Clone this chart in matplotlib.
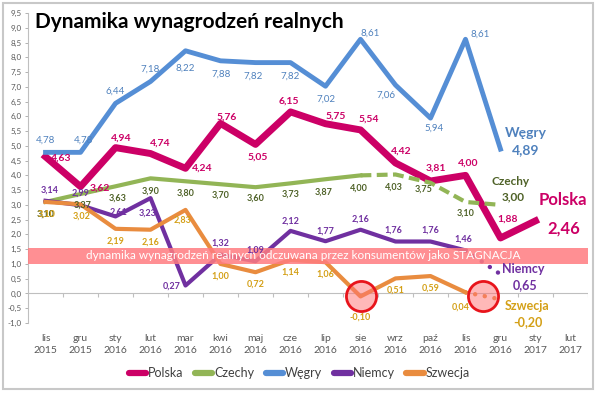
import numpy as np
import matplotlib
matplotlib.use("Agg")
from matplotlib import pyplot as plt
from matplotlib.patches import Rectangle

plt.rcParams['font.family'] = ['Lato', 'DejaVu Sans']

months = ['lis\n2015', 'gru\n2015', 'sty\n2016', 'lut\n2016', 'mar\n2016', 'kwi\n2016',
          'maj\n2016', 'cze\n2016', 'lip\n2016', 'sie\n2016', 'wrz\n2016', 'paź\n2016',
          'lis\n2016', 'gru\n2016', 'sty\n2017', 'lut\n2017']

polska = [4.63, 3.62, 4.94, 4.74, 4.24, 5.76, 5.05, 6.15, 5.75, 5.54, 4.42, 3.81, 4.00, 1.88, 2.46]
czechy = [3.10, 3.37, 3.63, 3.90, 3.80, 3.70, 3.60, 3.73, 3.87, 4.00, 4.03, 3.75, 3.10, 3.00]
wegry = [4.78, 4.78, 6.44, 7.18, 8.22, 7.88, 7.82, 7.82, 7.02, 8.61, 7.06, 5.94, 8.61, 4.89]
niemcy = [3.14, 2.99, 2.61, 3.23, 0.27, 1.32, 1.09, 2.12, 1.77, 2.16, 1.76, 1.76, 1.46, 0.65]
szwecja = [3.10, 3.02, 2.19, 2.16, 2.83, 1.00, 0.72, 1.14, 1.06, -0.10, 0.51, 0.59, 0.04, -0.20]

# band "stagnacja" (y from / to)
stagnacja = [1.0, 1.55]

# label offsets in pixels (dx, dy)
off_polska = [(16, -1), (19, -2), (6, 10), (10, 10), (17, 0), (6, 6), (2, -13), (-2, 11),
              (10, 8), (8, 11), (6, 12), (5, 13), (3, 12), (7, 19)]
off_czechy = [(0, -12), (2, -11), (2, -12), (0, -13), (0, -12), (0, -11), (0, -11), (0, -11),
              (-2, -13), (-2, -13), (-2, -13), (-7, -6), (0, -11)]
off_wegry = [(0, 12), (3, 12), (0, 12), (0, 12), (0, -17), (1, -13), (-2, -14), (0, -14),
             (1, -13), (10, 6), (-10, -10), (4, -10), (15, 5)]
off_niemcy = [(4, 11), (0, 12), (3, 4), (-3, -15), (-14, -1), (0, 11), (0, 11), (0, 10),
              (0, 10), (0, 11), (-2, 11), (0, 11), (-2, 11)]
off_szwecja = [(1, -12), (1, -12), (0, -12), (0, -12), (-3, -10), (0, -12), (0, -12), (0, -12),
               (0, -12), (0, -21), (0, -12), (0, -12), (-5, -15)]

c_polska = '#CC0066'
c_czechy = '#92B556'
c_czechy_txt = '#4F6228'
c_wegry = '#558ED5'
c_wegry_txt = '#4F81BD'
c_niemcy = '#7030A0'
c_szwecja = '#E98C3F'
c_szwecja_txt = '#D4A017'


def fmt(v):
    return ('%.2f' % v).replace('.', ',')


def labels(ax, xs, vals, offs, color, size, weight):
    for xi, v, o in zip(xs, vals, offs):
        ax.annotate(fmt(v), (xi, v), xytext=o, textcoords='offset pixels', ha='center',
                    va='center', fontsize=size, color=color, fontweight=weight, zorder=10)


def main():
    fig = plt.figure(figsize=(6.0, 3.94), dpi=100)
    ax = fig.add_axes([0.0467, 0.1802, 0.9333, 0.7868])
    x = np.arange(len(months))

    # lines
    ax.plot(x[:len(polska)], polska, color=c_polska, lw=5, solid_joinstyle='round', zorder=3)
    ax.plot(x[:10], czechy[:10], color=c_czechy, lw=3, solid_joinstyle='round', zorder=4)
    ax.plot(x[9:len(czechy)], czechy[9:], color=c_czechy, lw=3, dashes=(2.6, 1.3), zorder=4)
    ax.plot(x[:len(wegry)], wegry, color=c_wegry, lw=3.5, solid_joinstyle='round', zorder=5)
    ax.plot(x[:13], niemcy[:13], color=c_niemcy, lw=3, solid_joinstyle='round', zorder=6)
    ax.plot(x[12:len(niemcy)], niemcy[12:], color=c_niemcy, lw=3.2, dashes=(0.01, 2.2),
            dash_capstyle='round', zorder=6)
    ax.plot(x[:13], szwecja[:13], color=c_szwecja, lw=3, solid_joinstyle='round', zorder=7)
    ax.plot(x[12:len(szwecja)], szwecja[12:], color=c_szwecja, lw=3.2, dashes=(0.01, 2.2),
            dash_capstyle='round', zorder=7)

    # stagnation band
    ax.axhspan(stagnacja[0], stagnacja[1], color='#FF7C80', alpha=0.85, lw=0, zorder=8)
    ax.text(0.491, (np.mean(stagnacja) + 1) / 10.5, 'dynamika wynagrodzeń realnych odczuwana przez konsumentów jako STAGNACJA',
            transform=ax.transAxes, ha='center', va='center', color='white', fontsize=8.5, zorder=9)

    # red circles
    ax.scatter([9, 12.5], [szwecja[9], (szwecja[12] + szwecja[13]) / 2], s=470,
               facecolor=(1.0, 0.45, 0.45, 0.5), edgecolor='#E8141B', linewidth=2, zorder=9)

    # data labels
    labels(ax, x, polska[:14], off_polska, c_polska, 7.5, 'bold')
    labels(ax, x, czechy[:13], off_czechy, c_czechy_txt, 6.5, 'bold')
    labels(ax, x, wegry[:13], off_wegry, c_wegry_txt, 7, 'normal')
    labels(ax, x, niemcy[:13], off_niemcy, c_niemcy, 6.5, 'bold')
    labels(ax, x, szwecja[:13], off_szwecja, c_szwecja_txt, 6.5, 'bold')

    # end labels
    ends = [(14, polska[14], 'Polska', c_polska, 12, (27, 21), (28, -8)),
            (13, czechy[13], 'Czechy', c_czechy_txt, 8.5, (10, 23), (13, 8)),
            (13, wegry[13], 'Węgry', c_wegry_txt, 10, (25, 16), (25, -1)),
            (13, niemcy[13], 'Niemcy', c_niemcy, 9, (23, 5), (25, -11)),
            (13, szwecja[13], 'Szwecja', c_szwecja_txt, 9, (27, -7), (27, -23))]
    for xi, v, name, col, size, o1, o2 in ends:
        ax.annotate(name, (xi, v), xytext=o1, textcoords='offset pixels', ha='center',
                    va='center', fontsize=size, color=col, fontweight='bold', zorder=10)
        ax.annotate(fmt(v), (xi, v), xytext=o2, textcoords='offset pixels', ha='center',
                    va='center', fontsize=size, color=col, fontweight='bold', zorder=10)

    # axes
    ax.set_xlim(-0.5, len(months) - 0.5)
    ax.set_ylim(-1.0, 9.5)
    yt = np.arange(-1.0, 9.51, 0.5)
    ax.set_yticks(yt)
    ax.set_yticklabels([('%.1f' % t).replace('.', ',') for t in yt], fontsize=5.8, color='#595959')
    ax.tick_params(axis='y', length=2.5, width=0.6, color='#A6A6A6', pad=2)
    ax.set_xticks(x)
    ax.set_xticklabels(months, fontsize=7.5, color='#595959', linespacing=1.45)
    ax.tick_params(axis='x', length=0, pad=8)
    for s in ['top', 'right', 'bottom']:
        ax.spines[s].set_visible(False)
    ax.spines['left'].set_color('#BFBFBF')
    ax.spines['left'].set_linewidth(0.8)
    ax.axhline(0, color='#BFBFBF', lw=0.8, zorder=1)
    ax.vlines(np.arange(1, len(months) + 1) - 0.5, -0.13, 0, color='#BFBFBF', lw=0.8, zorder=1)

    # title
    fig.text(35 / 600, 1 - 22 / 394, 'Dynamika wynagrodzeń realnych', fontsize=15,
             fontweight='bold', ha='left', va='center', color='black')

    # legend
    handles = [plt.Line2D([], [], color=c, lw=4.5, solid_capstyle='round')
               for c in [c_polska, c_czechy, c_wegry, c_niemcy, c_szwecja]]
    fig.legend(handles, ['Polska', 'Czechy', 'Węgry', 'Niemcy', 'Szwecja'], loc='center',
               bbox_to_anchor=(0.499, 1 - 373 / 394), ncol=5, frameon=False, fontsize=9,
               handlelength=1.4, handletextpad=0.15, columnspacing=0.9, labelcolor='#404040')

    # chart border
    fig.patches.append(Rectangle((3 / 600, 5 / 394), 590 / 600, 386 / 394, transform=fig.transFigure,
                                 fill=False, edgecolor='#C8C8C8', lw=1.5))

    fig.savefig('out.png', dpi=100)


if __name__ == '__main__':
    main()
